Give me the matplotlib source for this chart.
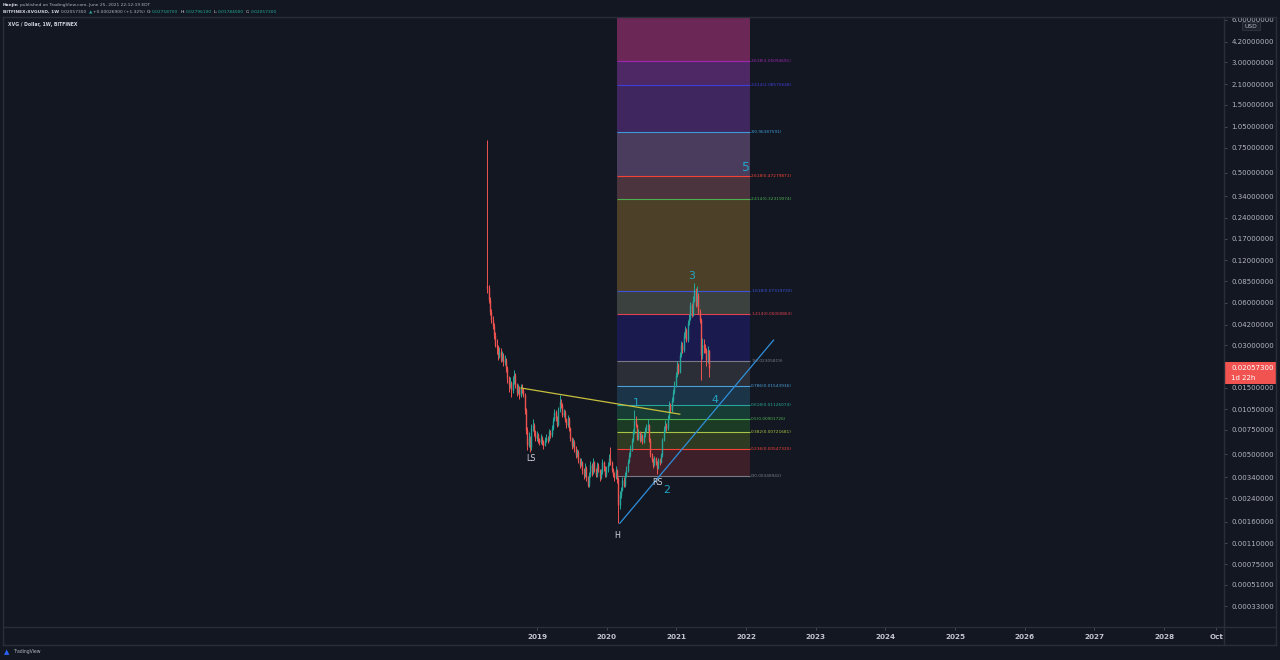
import numpy as np
import matplotlib.pyplot as plt
from matplotlib.patches import Rectangle
from matplotlib.lines import Line2D

W, H = 1280, 660
BG = '#131722'
BORDER = '#2a2e39'
TXT = '#b2b5be'
UP = '#26a69a'
DOWN = '#ef5350'
WAVE = '#22a5c4'

# weekly candles XVG/USD (Bitfinex), last candle = week of 2021-06-21
last_week = '2021-06-21'
first_open = 0.079
closes = [0.0762, 0.0627, 0.0515, 0.0452, 0.0410, 0.0354, 0.0301, 0.0287, 0.0256, 0.0269,
          0.0244, 0.0252, 0.0229, 0.0236, 0.0207, 0.0175, 0.0157, 0.0162, 0.0144, 0.0165,
          0.0184, 0.0157, 0.0139, 0.0149, 0.0133, 0.0149, 0.0144, 0.0133, 0.0104, 0.00747,
          0.00583, 0.00655, 0.0056, 0.0077, 0.00811, 0.0072, 0.0065, 0.0069, 0.00633, 0.0061,
          0.0066, 0.0061, 0.00583, 0.00633, 0.0066, 0.00633, 0.0072, 0.0069, 0.0077, 0.00881,
          0.0101, 0.0091, 0.00811, 0.0104, 0.0119, 0.0113, 0.00956, 0.0101, 0.00881, 0.00811,
          0.0091, 0.0077, 0.0065, 0.00583, 0.0061, 0.0055, 0.00494, 0.0052, 0.00455, 0.00418,
          0.0044, 0.00385, 0.00354, 0.0040, 0.0034, 0.0030, 0.00354, 0.00418, 0.0037, 0.0044,
          0.00385, 0.00354, 0.00418, 0.00385, 0.0034, 0.0037, 0.0044, 0.0040, 0.00354, 0.00385,
          0.00418, 0.0047, 0.0044, 0.00385, 0.00354, 0.0034, 0.00385, 0.0033, 0.00213, 0.00253,
          0.00275, 0.00326, 0.0030, 0.00354, 0.00385, 0.0044, 0.00494, 0.0055, 0.00633, 0.0072,
          0.00881, 0.00811, 0.0065, 0.0072, 0.00633, 0.0068, 0.0061, 0.00688, 0.00747, 0.0077,
          0.00811, 0.00633, 0.00494, 0.00455, 0.00418, 0.0047, 0.0044, 0.0040, 0.00455, 0.0044,
          0.00494, 0.00633, 0.00747, 0.00811, 0.0077, 0.0091, 0.0113, 0.0104, 0.0122, 0.0139,
          0.0157, 0.0184, 0.0217, 0.0193, 0.0256, 0.0301, 0.0277, 0.0354, 0.0384, 0.0326,
          0.0433, 0.0465, 0.0578, 0.0491, 0.0627, 0.0738, 0.0578, 0.0680, 0.0515, 0.0452,
          0.0256, 0.0301, 0.0290, 0.0277, 0.0236, 0.027587, 0.020573]
highs = [0.85, 0.080, 0.066, 0.054, 0.048, 0.043, 0.037, 0.033, 0.030, 0.029,
         0.0285, 0.0275, 0.0262, 0.0255, 0.0245, 0.0215, 0.0182, 0.0178, 0.0168, 0.0180,
         0.0200, 0.0190, 0.0163, 0.0158, 0.0153, 0.0160, 0.0158, 0.0150, 0.0138, 0.0108,
         0.0078, 0.0072, 0.0068, 0.0082, 0.0090, 0.0084, 0.0075, 0.0074, 0.0071, 0.0066,
         0.0070, 0.0068, 0.0063, 0.0067, 0.0070, 0.0068, 0.0076, 0.0075, 0.0081, 0.0093,
         0.0106, 0.0104, 0.0094, 0.0110, 0.0132, 0.0125, 0.0116, 0.0106, 0.0104, 0.0091,
         0.0096, 0.0093, 0.0079, 0.0067, 0.0065, 0.0063, 0.0057, 0.0055, 0.0054, 0.0047,
         0.0047, 0.0045, 0.0040, 0.0043, 0.0041, 0.0035, 0.0037, 0.0045, 0.0043, 0.0047,
         0.0045, 0.0040, 0.0044, 0.0043, 0.0039, 0.0039, 0.0046, 0.0045, 0.0041, 0.0041,
         0.0044, 0.0050, 0.0056, 0.0045, 0.0040, 0.0037, 0.0041, 0.0039, 0.0034, 0.0027,
         0.0029, 0.0034, 0.0034, 0.0037, 0.0041, 0.0046, 0.0052, 0.0058, 0.0066, 0.0076,
         0.0104, 0.0094, 0.0083, 0.0076, 0.0074, 0.0071, 0.0070, 0.0072, 0.0078, 0.0082,
         0.0090, 0.0083, 0.0065, 0.0051, 0.0047, 0.0049, 0.0048, 0.0045, 0.0047, 0.0047,
         0.0051, 0.0066, 0.0080, 0.0088, 0.0084, 0.0095, 0.0120, 0.0117, 0.0128, 0.0146,
         0.0166, 0.0195, 0.0233, 0.0225, 0.0270, 0.0320, 0.0315, 0.0372, 0.0410, 0.0395,
         0.0455, 0.0500, 0.0610, 0.0600, 0.0665, 0.0830, 0.0760, 0.0790, 0.0700, 0.0540,
         0.0470, 0.0340, 0.0330, 0.0305, 0.0285, 0.0295, 0.027961]
lows = [0.070, 0.060, 0.049, 0.043, 0.039, 0.033, 0.029, 0.026, 0.0235, 0.0245,
        0.0228, 0.0232, 0.0215, 0.0218, 0.0195, 0.0162, 0.0140, 0.0148, 0.0128, 0.0138,
        0.0160, 0.0150, 0.0130, 0.0134, 0.0125, 0.0128, 0.0138, 0.0128, 0.0098, 0.0070,
        0.0054, 0.0056, 0.0052, 0.0054, 0.0074, 0.0068, 0.0062, 0.0062, 0.0060, 0.0058,
        0.0059, 0.0058, 0.0055, 0.0057, 0.0061, 0.0060, 0.0062, 0.0066, 0.0067, 0.0075,
        0.0086, 0.0087, 0.0078, 0.0080, 0.0100, 0.0108, 0.0092, 0.0093, 0.0085, 0.0077,
        0.0079, 0.0074, 0.0062, 0.0055, 0.0056, 0.0052, 0.0047, 0.0048, 0.0043, 0.0040,
        0.0041, 0.0036, 0.0033, 0.0034, 0.0032, 0.0029, 0.0029, 0.0034, 0.0035, 0.0036,
        0.0037, 0.0034, 0.0034, 0.0037, 0.0032, 0.0033, 0.0036, 0.0038, 0.0034, 0.0034,
        0.0037, 0.0041, 0.0042, 0.0037, 0.0034, 0.0032, 0.0033, 0.0031, 0.00156, 0.0020,
        0.0024, 0.0027, 0.0029, 0.0029, 0.0034, 0.0037, 0.0043, 0.0048, 0.0053, 0.0061,
        0.0070, 0.0078, 0.0063, 0.0063, 0.0061, 0.0062, 0.0059, 0.0060, 0.0067, 0.0072,
        0.0074, 0.0061, 0.0048, 0.0044, 0.0040, 0.0041, 0.0042, 0.0036, 0.0039, 0.0042,
        0.0043, 0.0048, 0.0062, 0.0072, 0.0074, 0.0075, 0.0089, 0.0100, 0.0101, 0.0118,
        0.0135, 0.0152, 0.0178, 0.0186, 0.0189, 0.0248, 0.0265, 0.0270, 0.0340, 0.0315,
        0.0318, 0.0420, 0.0452, 0.0475, 0.0480, 0.0610, 0.0560, 0.0565, 0.0500, 0.0430,
        0.0170, 0.0240, 0.0265, 0.0262, 0.0215, 0.0225, 0.01784]

# fib extension levels
fib_ratios = ['0', '0.236', '0.382', '0.5', '0.618', '0.786', '1', '1.414', '1.618',
              '2.414', '2.618', '3', '3.414', '3.618', '4.236']
fib_prices = [0.00348942, 0.00547325, 0.00721681, 0.00901726, 0.01126074, 0.01543936,
              0.02305819, 0.05000863, 0.07319720, 0.32319074, 0.47279871, 0.96387591,
              2.08570648, 3.05094691, 10.0]
fib_line_colors = ['#787b86', '#f44336', '#a8c545', '#4caf50', '#26a69a', '#4a9fd8',
                   '#787b86', '#e0414f', '#3f51d8', '#4caf50', '#f44336', '#3d9ad6',
                   '#3f3fd8', '#9c27b0', '#e91e63']
fib_fill_colors = ['#3c1f29', '#2f3a23', '#1c3b25', '#173b35', '#1b3447', '#2b2e37',
                   '#1b1a4e', '#3b413e', '#4c4128', '#4c343f', '#4a3c5d', '#40265f',
                   '#4d2865', '#6b2857']
fib_start, fib_end = 2020.146, 2022.052

price_ticks = [6.0, 4.2, 3.0, 2.1, 1.5, 1.05, 0.75, 0.5, 0.34, 0.24, 0.17, 0.12, 0.085,
               0.06, 0.042, 0.03, 0.021, 0.015, 0.0105, 0.0075, 0.005, 0.0034, 0.0024,
               0.0016, 0.0011, 0.00075, 0.00051, 0.00033]
year_ticks = [2019, 2020, 2021, 2022, 2023, 2024, 2025, 2026, 2027, 2028, 2028.75]
year_labels = ['2019', '2020', '2021', '2022', '2023', '2024', '2025', '2026', '2027', '2028', 'Oct']

# annotations: (text, year, price)
shoulder_labels = [('LS', 2018.914, 0.00463), ('H', 2020.146, 0.00127), ('RS', 2020.733, 0.00310)]
wave_labels = [('1', 2020.418, 0.0117), ('2', 2020.862, 0.00275), ('3', 2021.221, 0.0927),
               ('4', 2021.550, 0.0122), ('5', 2021.994, 0.5467)]
neckline_x, neckline_y = [2018.771, 2021.049], [0.0149, 0.0097]
trend_x, trend_y = [2020.189, 2022.395], [0.00156, 0.0326]


def fx(px):
    return px / W


def fy(py):
    return 1 - py / H


def to_year(d):
    y = d.astype('datetime64[Y]')
    days = (d - y.astype('datetime64[D]')).astype(int)
    return 1970 + y.astype(int) + days / 365.25


def fwd(p):
    return np.log10(np.clip(p, 1e-9, None) + 1e-4)


def inv(v):
    return 10 ** v - 1e-4


n = len(closes)
dates = np.datetime64(last_week) - np.arange(n - 1, -1, -1) * np.timedelta64(7, 'D')
xs = to_year(dates)
opens = [first_open] + closes[:-1]

fig = plt.figure(figsize=(W / 100, H / 100), dpi=100, facecolor=BG)
renderer = fig.canvas.get_renderer()
ax = fig.add_axes([fx(4), fy(627), fx(1220), 610 / H])
ax.set_facecolor(BG)
ax.set_yscale('function', functions=(fwd, inv))
ax.set_xlim(2011.35, 2028.86)
ax.set_ylim(0.000207, 6.28)
for s in ax.spines.values():
    s.set_visible(False)

# fib bands
for i in range(len(fib_fill_colors)):
    ax.fill_between([fib_start, fib_end], fib_prices[i], fib_prices[i + 1],
                    color=fib_fill_colors[i], lw=0, zorder=1)
for i in range(len(fib_prices) - 1):
    ax.hlines(fib_prices[i], fib_start, fib_end, color=fib_line_colors[i], lw=0.8, zorder=2)
    ax.text(fib_end + 0.02, fib_prices[i], f'{fib_ratios[i]}({fib_prices[i]:.8f})',
            color=fib_line_colors[i], fontsize=3.1, va='center', ha='left', zorder=5)

# candles
for x, o, h, l, c in zip(xs, opens, highs, lows, closes):
    col = UP if c >= o else DOWN
    ax.vlines(x, min(l, o, c), max(h, o, c), color=col, lw=0.7, zorder=3)
    ax.vlines(x, min(o, c), max(o, c), color=col, lw=1.0, zorder=3)

ax.plot(neckline_x, neckline_y, color='#c8c03c', lw=0.9, zorder=4)
ax.plot(trend_x, trend_y, color='#2e8fdb', lw=0.9, zorder=4)

for t, x, y in shoulder_labels:
    ax.text(x, y, t, color='#d1d4dc', fontsize=5.8, ha='center', va='center', zorder=6)
for t, x, y in wave_labels:
    ax.text(x, y, t, color=WAVE, fontsize=9 if t == '5' else 7.8,
            ha='center', va='center', zorder=6)

# price axis on the right
ax.yaxis.tick_right()
ax.set_yticks(price_ticks)
ax.set_yticklabels([f'{p:.8f}' for p in price_ticks])
ax.yaxis.set_minor_locator(plt.NullLocator())
ax.tick_params(axis='y', length=2.2, width=0.6, color='#50535e', pad=3,
               labelsize=5, labelcolor=TXT)
ax.set_xticks(year_ticks)
ax.set_xticklabels(year_labels, fontweight='bold')
ax.xaxis.set_minor_locator(plt.NullLocator())
ax.tick_params(axis='x', length=2.2, width=0.6, color='#50535e', pad=2.5,
               labelsize=5.2, labelcolor='#c3c6ce')

# frame
for xa, ya in [([3, 1276], [17, 17]), ([3, 1276], [645, 645]), ([3, 3], [17, 645]),
               ([1276, 1276], [17, 645]), ([1224, 1224], [17, 645]), ([3, 1276], [627, 627])]:
    fig.add_artist(Line2D([fx(v) for v in xa], [fy(v) for v in ya], color=BORDER, lw=1))

# USD label and last price tag
fig.add_artist(Rectangle((fx(1242), fy(30)), fx(18), 8 / H, facecolor='#1e222d',
                         edgecolor='#363a45', lw=0.5))
fig.text(fx(1251), fy(26), 'USD', color=TXT, fontsize=4.3, ha='center', va='center')
fig.add_artist(Rectangle((fx(1225), fy(384)), fx(51), 22 / H, facecolor='#f05350', lw=0))
fig.text(fx(1231), fy(368.5), '0.02057300', color='white', fontsize=5, va='center')
fig.text(fx(1231), fy(378), '1d 22h', color='white', fontsize=5, va='center')


# header pieces laid out one after the other
def chain(x, y, parts, size=3.2):
    for text, color, weight, gap in parts:
        t = fig.text(fx(x), fy(y), text, color=color, fontsize=size,
                     fontweight=weight, va='center')
        x = t.get_window_extent(renderer).x1 + gap


chain(3, 5, [('Haejin', '#d1d4dc', 'bold', 1.5),
             ('published on TradingView.com, June 25, 2021 22:12:19 EDT', TXT, 'normal', 0)])
chain(3, 12, [('BITFINEX:XVGUSD, 1W', '#d1d4dc', 'bold', 2),
              ('0.02057300', TXT, 'normal', 1.5),
              ('\u25b2', UP, 'normal', 1),
              ('+0.00026900 (+1.32%)', TXT, 'normal', 2),
              ('O:', '#d1d4dc', 'normal', 0.3), ('0.02758700', UP, 'normal', 2),
              ('H:', '#d1d4dc', 'normal', 0.3), ('0.02796100', UP, 'normal', 2),
              ('L:', '#d1d4dc', 'normal', 0.3), ('0.01784000', UP, 'normal', 2),
              ('C:', '#d1d4dc', 'normal', 0.3), ('0.02057300', UP, 'normal', 0)])
fig.text(fx(8), fy(24.5), 'XVG / Dollar, 1W, BITFINEX', color='#d1d4dc', fontsize=3.3,
         fontweight='bold', va='center')

# footer
fig.text(fx(4), fy(652), '\u25b2', color='#2962ff', fontsize=5, va='center')
fig.text(fx(13), fy(652), 'TradingView', color=TXT, fontsize=3.3, va='center')

fig.savefig('out.png', dpi=100, facecolor=BG)
